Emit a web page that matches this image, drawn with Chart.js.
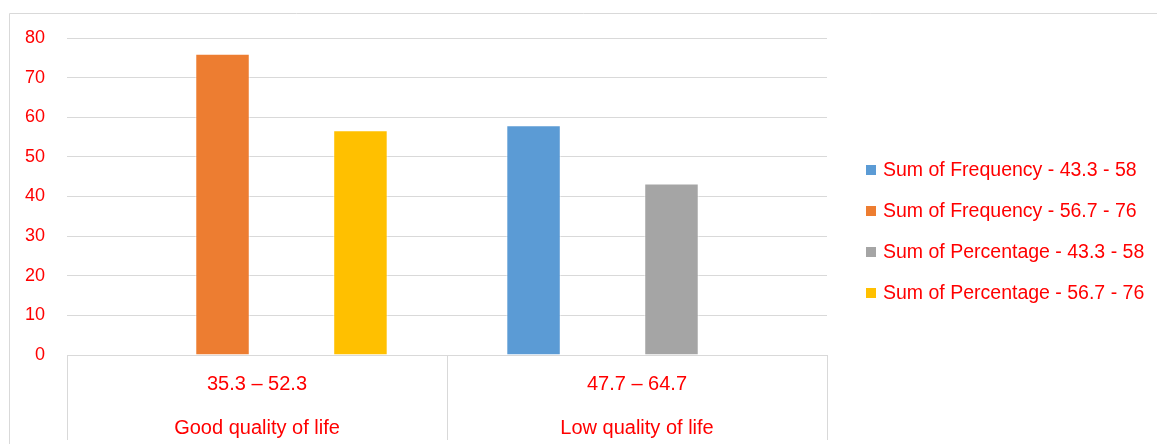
<!DOCTYPE html>
<html>
<head>
<meta charset="utf-8">
<style>
  html, body { margin: 0; padding: 0; background: #ffffff; }
  #wrap { width: 1157px; height: 444px; position: relative; }
</style>
<script src="https://cdn.jsdelivr.net/npm/chart.js@4.4.1/dist/chart.umd.min.js"></script>
</head>
<body>
<div id="wrap"><canvas id="chart"></canvas></div>
<script>
// Score ranges and quality-of-life groups (two-level category axis)
const rangeLabels = ['35.3 – 52.3', '47.7 – 64.7'];
const groupLabels = ['Good quality of life', 'Low quality of life'];

// Series values per category (null where a series has no entry)
const freqLow  = [null, 58];
const freqHigh = [76, null];
const pctLow   = [null, 43.3];
const pctHigh  = [56.7, null];

const seriesNames = [
  'Sum of Frequency - 43.3 - 58',
  'Sum of Frequency - 56.7 - 76',
  'Sum of Percentage - 43.3 - 58',
  'Sum of Percentage - 56.7 - 76'
];

// Value axis ticks
const yMin = 0, yMax = 80, yStep = 10;

const colors = ['#5b9bd5', '#ed7d31', '#a5a5a5', '#ffc000'];
const red = '#ff0000';
const gridColor = '#d9d9d9';
const fontFamily = '"Liberation Sans", Arial, sans-serif';

const categories = rangeLabels.map((r, i) => [r, groupLabels[i]]);
const seriesValues = [freqLow, freqHigh, pctLow, pctHigh];

// Outer frame line of the chart object
const framePlugin = {
  id: 'frame',
  beforeDraw(chart) {
    const ctx = chart.ctx;
    ctx.save();
    ctx.strokeStyle = gridColor;
    ctx.lineWidth = 1;
    ctx.beginPath();
    ctx.moveTo(9.5, chart.height);
    ctx.lineTo(9.5, 13.5);
    ctx.lineTo(chart.width, 13.5);
    ctx.stroke();
    ctx.restore();
  }
};

// Divider lines between the category cells below the plot
const dividerPlugin = {
  id: 'dividers',
  afterDraw(chart) {
    const xs = chart.scales.x;
    const ctx = chart.ctx;
    const n = xs.getLabels().length;
    const top = chart.chartArea.bottom;
    const bottom = top + 85;
    ctx.save();
    ctx.strokeStyle = gridColor;
    ctx.lineWidth = 1;
    for (let i = 0; i <= n; i++) {
      const px = Math.round(xs.left + i * xs.width / n) + 0.5;
      ctx.beginPath();
      ctx.moveTo(px, top);
      ctx.lineTo(px, bottom);
      ctx.stroke();
    }
    ctx.restore();
  }
};

// Legend listed to the right of the plot
const sideLegendPlugin = {
  id: 'sideLegend',
  afterDraw(chart) {
    const ctx = chart.ctx;
    const area = chart.chartArea;
    const boxX = area.right + 39;
    const textX = boxX + 17;
    const firstY = 170;
    const step = 41;
    ctx.save();
    ctx.font = '19.5px ' + fontFamily;
    ctx.textBaseline = 'middle';
    ctx.textAlign = 'left';
    chart.data.datasets.forEach((ds, i) => {
      const cy = firstY + i * step;
      ctx.fillStyle = ds.backgroundColor;
      ctx.fillRect(boxX, cy - 5, 10, 10);
      ctx.fillStyle = red;
      ctx.fillText(ds.label, textX, cy + 1);
    });
    ctx.restore();
  }
};

new Chart(document.getElementById('chart'), {
  type: 'bar',
  data: {
    labels: categories,
    datasets: seriesValues.map((vals, i) => ({
      label: seriesNames[i],
      data: vals,
      backgroundColor: colors[i],
      borderColor: 'rgba(255,255,255,0.55)',
      borderWidth: 1,
      categoryPercentage: 0.726,
      barPercentage: 0.79
    }))
  },
  options: {
    responsive: true,
    maintainAspectRatio: false,
    animation: false,
    layout: { padding: { left: 0, top: 38, right: 330, bottom: 0 } },
    plugins: {
      legend: { display: false },
      tooltip: { enabled: false }
    },
    scales: {
      x: {
        afterFit(scale) { scale.height = 89; },
        grid: { display: false },
        border: { display: false },
        ticks: {
          color: red,
          font: { family: fontFamily, size: 20, lineHeight: 2.2 },
          padding: -1,
          maxRotation: 0,
          autoSkip: false
        }
      },
      y: {
        min: yMin,
        max: yMax,
        afterFit(scale) { scale.width = 67; },
        grid: { color: gridColor, lineWidth: 1, drawTicks: false },
        border: { display: false },
        ticks: {
          stepSize: yStep,
          color: red,
          font: { family: fontFamily, size: 18 },
          padding: 22
        }
      }
    }
  },
  plugins: [framePlugin, dividerPlugin, sideLegendPlugin]
});
</script>
</body>
</html>
